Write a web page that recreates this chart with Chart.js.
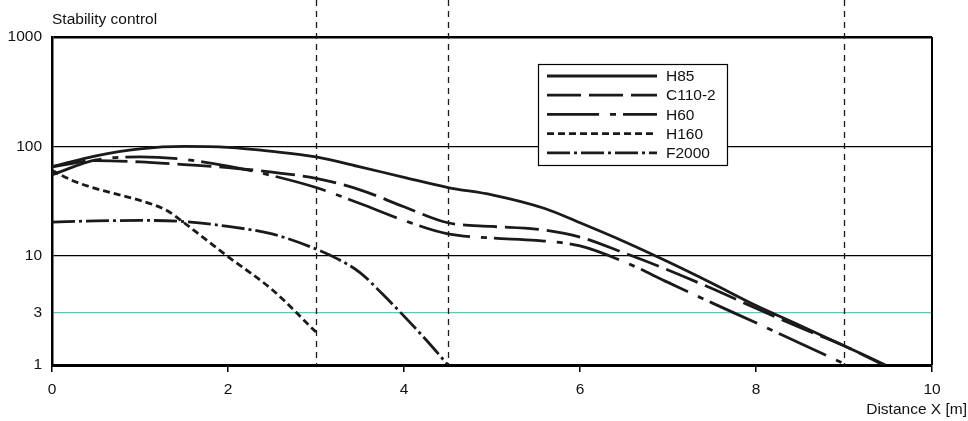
<!DOCTYPE html>
<html>
<head>
<meta charset="utf-8">
<script src="https://cdn.jsdelivr.net/npm/chart.js@4.4.1/dist/chart.umd.min.js"></script>
<style>
  body { margin: 0; background: #fff; }
  #wrap { width: 968px; height: 421px; position: relative; }
</style>
</head>
<body>
<div id="wrap"><canvas id="myChart"></canvas></div>
<script>
// tick values
const xTicks = [0, 2, 4, 6, 8, 10];
const yTicks = [1, 3, 10, 100, 1000];
// vertical marker positions (m)
const markerX = [3, 4.5, 9];

// series
const seriesNames = ['H85', 'C110-2', 'H60', 'H160', 'F2000'];

const h85X = [0, 0.5, 1, 1.5, 2, 2.5, 3, 3.5, 4, 4.5, 5, 5.6, 6, 6.5, 7, 7.5, 8, 8.5, 9, 9.47];
const h85Y = [65, 82, 95, 100, 98, 90, 80, 65, 52, 42, 36, 27, 20, 13.5, 8.8, 5.6, 3.5, 2.3, 1.5, 1];

const c110X = [0, 0.5, 1, 1.5, 2, 2.5, 3, 3.5, 4, 4.5, 5, 5.5, 6, 6.5, 7, 7.5, 8, 8.5, 9, 9.45];
const c110Y = [65, 74, 72, 68, 64, 58, 51, 40, 28, 20, 18.5, 17.5, 14.8, 10.6, 7.4, 5, 3.3, 2.2, 1.5, 1];

const h60X = [0, 0.5, 1, 1.5, 2, 2.5, 3, 3.5, 4, 4.5, 5, 5.5, 6, 6.5, 7, 7.5, 8, 8.5, 9];
const h60Y = [55, 75, 80, 76, 66, 54, 42, 30, 21, 15.8, 14.5, 13.8, 12.3, 8.8, 5.7, 3.7, 2.43, 1.58, 1.03];

const h160X = [0, 0.25, 0.5, 1, 1.3, 1.5, 1.75, 2, 2.5, 3];
const h160Y = [60, 48, 41, 32, 26, 20, 14, 9.8, 4.9, 2];

const f2000X = [0, 0.5, 1, 1.5, 2, 2.5, 3, 3.25, 3.5, 3.75, 4, 4.25, 4.5];
const f2000Y = [20.3, 20.8, 21, 20.5, 18.5, 15.8, 11.5, 9.3, 7, 4.5, 2.8, 1.7, 1];

const seriesX = [h85X, c110X, h60X, h160X, f2000X];
const seriesY = [h85Y, c110Y, h60Y, h160Y, f2000Y];
const seriesDash = [[], [34, 8], [52, 11, 6, 7], [7, 4], [23, 4, 3, 4]];

const FONT = '"Liberation Sans", Arial, sans-serif';
const INK = '#1a1a1a';

const datasets = seriesNames.map((name, i) => ({
    label: name,
    data: seriesX[i].map((x, j) => ({ x: x, y: seriesY[i][j] })),
    borderColor: INK,
    borderWidth: 2.8,
    borderDash: seriesDash[i],
    pointRadius: 0,
    fill: false,
    cubicInterpolationMode: 'monotone'
}));

// markers, frame, titles and legend
const overlay = {
    id: 'overlay',
    beforeDatasetsDraw(chart) {
        const ctx = chart.ctx;
        const area = chart.chartArea;
        const xs = chart.scales.x;
        ctx.save();
        ctx.strokeStyle = INK;
        ctx.lineWidth = 1.3;
        ctx.setLineDash([6, 5]);
        markerX.forEach(m => {
            const px = Math.round(xs.getPixelForValue(m)) + 0.5;
            ctx.beginPath();
            ctx.moveTo(px, 0);
            ctx.lineTo(px, area.bottom);
            ctx.stroke();
        });
        ctx.setLineDash([]);
        ctx.lineWidth = 2;
        ctx.strokeStyle = '#000';
        ctx.beginPath();
        ctx.moveTo(area.right, area.top);
        ctx.lineTo(area.right, area.bottom);
        ctx.stroke();
        ctx.restore();
    },
    afterDraw(chart) {
        const ctx = chart.ctx;
        const area = chart.chartArea;
        ctx.save();
        ctx.font = '15.5px ' + FONT;
        ctx.fillStyle = '#111';
        ctx.textBaseline = 'middle';
        ctx.textAlign = 'left';
        ctx.fillText('Stability control', area.left, 20);
        ctx.textAlign = 'right';
        ctx.fillText('Distance X [m]', 967, 410);

        // legend box
        const bx = 538, by = 64, bw = 189, bh = 101;
        ctx.fillStyle = '#fff';
        ctx.fillRect(bx, by, bw, bh);
        ctx.strokeStyle = '#000';
        ctx.lineWidth = 1.2;
        ctx.strokeRect(bx + 0.5, by + 0.5, bw, bh);
        ctx.textAlign = 'left';
        chart.data.datasets.forEach((ds, i) => {
            const y = 76 + i * 19.2;
            ctx.strokeStyle = INK;
            ctx.lineWidth = 2.8;
            ctx.setLineDash(ds.borderDash);
            ctx.beginPath();
            ctx.moveTo(547, y);
            ctx.lineTo(657, y);
            ctx.stroke();
            ctx.setLineDash([]);
            ctx.fillStyle = '#111';
            ctx.fillText(ds.label, 666, y + 1);
        });
        ctx.restore();
    }
};

const ctx = document.getElementById('myChart').getContext('2d');
const myChart = new Chart(ctx, {
    type: 'line',
    data: { datasets: datasets },
    options: {
        responsive: true,
        maintainAspectRatio: false,
        animation: false,
        layout: { padding: { left: 0, right: 36, top: 37, bottom: 0 } },
        plugins: {
            legend: { display: false },
            tooltip: { enabled: false }
        },
        scales: {
            x: {
                type: 'linear',
                min: 0,
                max: 10,
                afterBuildTicks: s => { s.ticks = xTicks.map(v => ({ value: v })); },
                afterFit: s => { s.height = 56; },
                ticks: {
                    color: '#111',
                    font: { family: FONT, size: 15.5 },
                    padding: 8,
                    maxRotation: 0,
                    callback: v => String(v)
                },
                grid: {
                    drawOnChartArea: false,
                    drawTicks: true,
                    tickLength: 7,
                    color: '#000',
                    lineWidth: 1.5
                },
                border: { display: true, color: '#000', width: 3 }
            },
            y: {
                type: 'logarithmic',
                min: 1,
                max: 1000,
                afterBuildTicks: s => { s.ticks = yTicks.map(v => ({ value: v })); },
                afterFit: s => { s.width = 52; },
                ticks: {
                    color: '#111',
                    font: { family: FONT, size: 15.5 },
                    padding: 10,
                    callback: v => String(v)
                },
                grid: {
                    drawTicks: false,
                    color: c => (c.tick && c.tick.value === 3) ? '#62c4b6' : '#000',
                    lineWidth: c => {
                        if (!c.tick) return 1;
                        if (c.tick.value === 1000) return 2.5;
                        if (c.tick.value === 1) return 0;
                        return 1.3;
                    }
                },
                border: { display: true, color: '#000', width: 2.5 }
            }
        }
    },
    plugins: [overlay]
});
</script>
</body>
</html>
